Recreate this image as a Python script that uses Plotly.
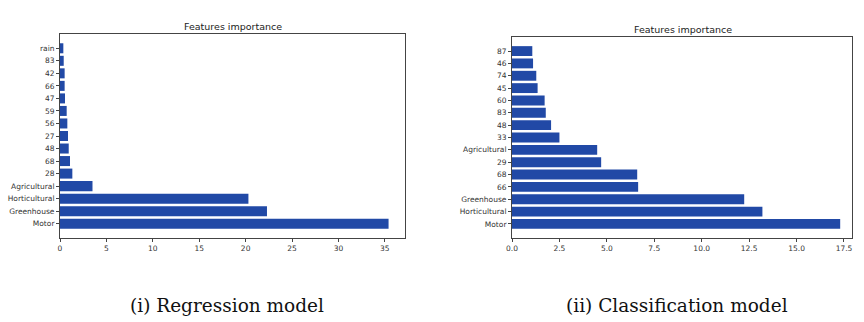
import plotly.graph_objects as go

# Regression model feature importances (bottom to top)
reg_features = ["Motor", "Greenhouse", "Horticultural", "Agricultural", "28", "68",
                "48", "27", "56", "59", "47", "66", "42", "83", "rain"]
reg_importance = [35.4, 22.3, 20.3, 3.5, 1.33, 1.08, 0.94, 0.86, 0.79, 0.72,
                  0.54, 0.50, 0.50, 0.40, 0.36]

# Classification model feature importances (bottom to top)
cls_features = ["Motor", "Horticultural", "Greenhouse", "66", "68", "29", "Agricultural",
                "33", "48", "83", "60", "45", "74", "46", "87"]
cls_importance = [17.3, 13.2, 12.24, 6.65, 6.6, 4.7, 4.49, 2.5, 2.06, 1.78,
                  1.72, 1.35, 1.28, 1.11, 1.07]

reg_ticks = [0, 5, 10, 15, 20, 25, 30, 35]
cls_ticks = [0.0, 2.5, 5.0, 7.5, 10.0, 12.5, 15.0, 17.5]

BAR = "#2149a6"
W, H = 864, 322

fig = go.Figure()
fig.add_trace(go.Bar(x=reg_importance, y=reg_features, orientation="h",
                     marker=dict(color=BAR, line=dict(width=0)), width=0.8,
                     xaxis="x", yaxis="y", showlegend=False))
fig.add_trace(go.Bar(x=cls_importance, y=cls_features, orientation="h",
                     marker=dict(color=BAR, line=dict(width=0)), width=0.8,
                     xaxis="x2", yaxis="y2", showlegend=False))

tickfont = dict(family="DejaVu Sans", size=7.5, color="#333")
box = dict(showline=True, mirror=True, linecolor="#444", linewidth=1,
           showgrid=False, zeroline=False, ticks="outside", ticklen=3,
           tickcolor="#444", tickfont=tickfont, automargin=False)

n = len(reg_features)
yrange = [-0.4 - 0.74, n - 1 + 0.4 + 0.74]

fig.update_layout(
    width=W, height=H,
    margin=dict(l=0, r=0, t=0, b=0, pad=0),
    paper_bgcolor="white", plot_bgcolor="white",
    bargap=0.2,
    xaxis=dict(domain=[60 / W, 405 / W], range=[0, max(reg_importance) * 1.05],
               tickvals=reg_ticks, anchor="y", **box),
    yaxis=dict(domain=[1 - 238 / H, 1 - 34 / H], range=yrange, type="category",
               categoryorder="array", categoryarray=reg_features, anchor="x", **box),
    xaxis2=dict(domain=[512 / W, 852 / W], range=[0, max(cls_importance) * 1.036],
                tickvals=cls_ticks, tickformat=".1f", anchor="y2", **box),
    yaxis2=dict(domain=[1 - 238 / H, 1 - 37 / H], range=yrange, type="category",
                categoryorder="array", categoryarray=cls_features, anchor="x2", **box),
)

title_font = dict(family="DejaVu Sans", size=9.5, color="#222")
for cx, cy in [(233, 27), (683, 30)]:
    fig.add_annotation(text="Features importance", x=cx / W, y=1 - cy / H,
                       xref="paper", yref="paper", showarrow=False, font=title_font,
                       xanchor="center", yanchor="middle")

cap_font = dict(family="DejaVu Serif", size=18.5, color="#111")
fig.add_annotation(text="(i) Regression model", x=227 / W, y=1 - 305 / H, xref="paper",
                   yref="paper", showarrow=False, font=cap_font,
                   xanchor="center", yanchor="middle")
fig.add_annotation(text="(ii) Classification model", x=677 / W, y=1 - 305 / H, xref="paper",
                   yref="paper", showarrow=False, font=cap_font,
                   xanchor="center", yanchor="middle")

fig.write_html("out.html")
